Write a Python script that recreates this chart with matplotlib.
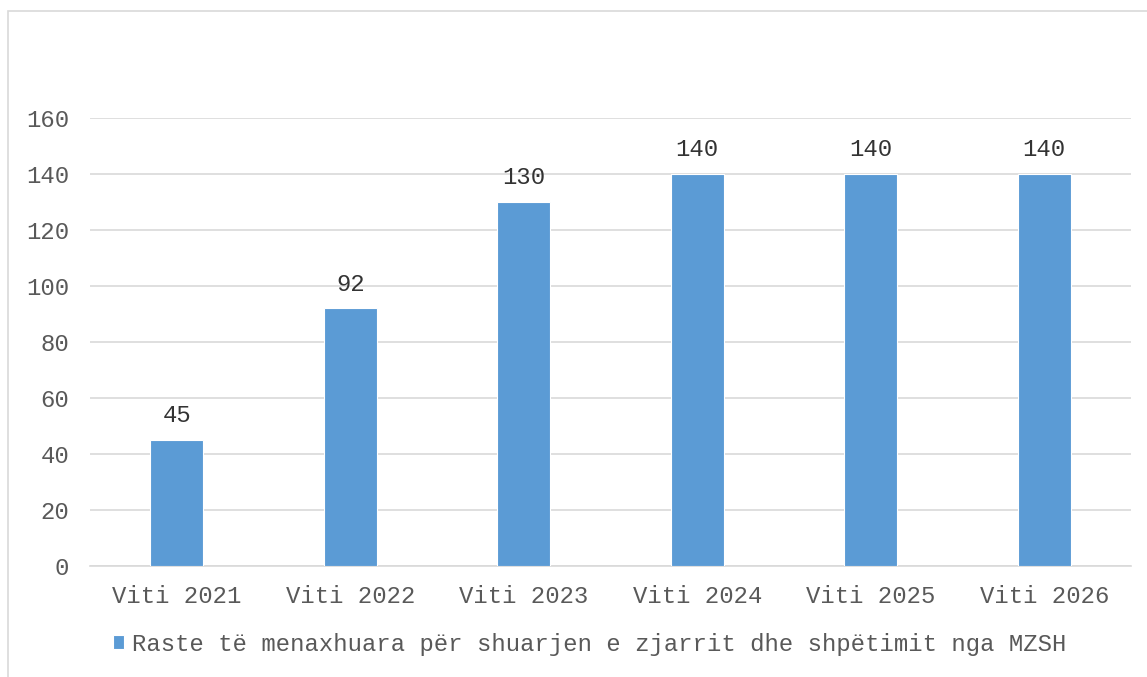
import matplotlib.pyplot as plt
import matplotlib.patches as patches
import numpy as np

categories = ["Viti 2021", "Viti 2022", "Viti 2023", "Viti 2024", "Viti 2025", "Viti 2026"]
values = [45, 92, 130, 140, 140, 140]
series_name = "Raste të menaxhuara për shuarjen e zjarrit dhe shpëtimit nga MZSH"
yticks = [0, 20, 40, 60, 80, 100, 120, 140, 160]

W, H = 1147, 677
plt.rcParams["font.family"] = ["Liberation Mono", "DejaVu Sans Mono"]
FS = 17.2

fig = plt.figure(figsize=(W / 100, H / 100), dpi=100)

# outer chart frame (only left/top visible in the reference)
frame = patches.Rectangle((8 / W, -0.1), 1.2, 1.1 - 11 / H, transform=fig.transFigure,
                          fill=False, edgecolor="#d9d9d9", linewidth=1.2, clip_on=False)
fig.patches.append(frame)

ax = fig.add_axes([90 / W, 1 - 566 / H, (1131 - 90) / W, (566 - 118) / H])

x = np.arange(len(categories))
bars = ax.bar(x, values, width=0.305, color="#5B9BD5", edgecolor="white",
              linewidth=0.8, label=series_name, zorder=3)

for xi, v in zip(x, values):
    ax.text(xi, v + 4.5, str(v), ha="center", va="bottom", fontsize=FS, color="#333333")

ax.set_xlim(-0.5, len(categories) - 0.5)
ax.set_ylim(0, 160)
ax.set_yticks(yticks)
ax.set_xticks(x)
ax.set_xticklabels(categories)
ax.yaxis.grid(True, color="#d9d9d9", linewidth=1.2, zorder=0)
ax.set_axisbelow(True)
for s in ["top", "right", "left"]:
    ax.spines[s].set_visible(False)
ax.spines["bottom"].set_color("#d9d9d9")
ax.spines["bottom"].set_linewidth(1.2)
ax.tick_params(axis="both", length=0, labelsize=FS, labelcolor="#595959")
ax.tick_params(axis="y", pad=15)
ax.tick_params(axis="x", pad=14)

fig.legend(handles=[bars], labels=[series_name], loc="center left",
           bbox_to_anchor=(91 / W, 1 - 644 / H), frameon=False,
           fontsize=FS, labelcolor="#595959", handlelength=0.5,
           handleheight=0.5, handletextpad=0.3)

fig.savefig("out.png", dpi=100)
